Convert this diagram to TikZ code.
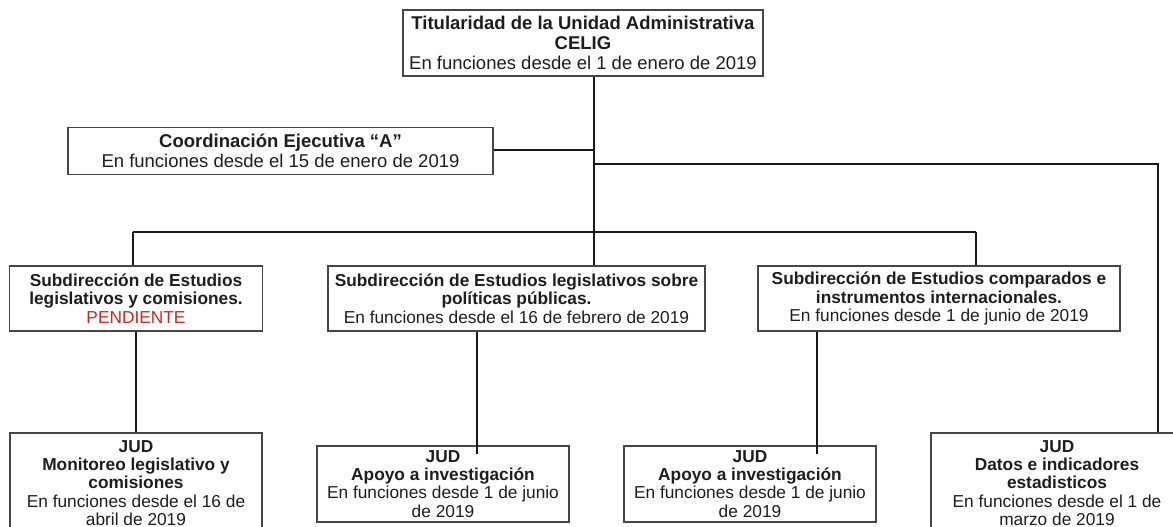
\documentclass[tikz,border=0pt]{standalone}
\usepackage{fontspec}
\setmainfont{Liberation Sans}
\definecolor{pend}{RGB}{200,40,30}
\definecolor{boxline}{RGB}{70,70,70}
\definecolor{txt}{RGB}{30,30,30}
\begin{document}
\begin{tikzpicture}[x=1pt,y=-1pt,
  box/.style={draw=boxline, line width=1.3pt, fill=white, rectangle, align=center, inner sep=0pt, text=txt},
  topfont/.style={font=\fontsize{18.5}{20}\selectfont},
  subfont/.style={font=\fontsize{17.3}{18.5}\selectfont},
  judfont/.style={font=\fontsize{17.3}{18.2}\selectfont},
  wire/.style={draw=black!90, line width=1.8pt},
]
\useasboundingbox (0,0) rectangle (1173,527);
\clip (0,0) rectangle (1173,527);

\node[box, topfont, minimum width=360, minimum height=66] (top) at (583,43)
  {\textbf{Titularidad de la Unidad Administrativa}\\\textbf{CELIG}\\En funciones desde el 1 de enero de 2019};
\node[box, topfont, minimum width=425, minimum height=47] (coord) at (280.5,151)
  {\textbf{Coordinación Ejecutiva “A”}\\En funciones desde el 15 de enero de 2019};

\node[box, subfont, minimum width=253, minimum height=65] (sub1) at (136,298.5)
  {\textbf{Subdirección de Estudios}\\\textbf{legislativos y comisiones.}\\\textcolor{pend}{PENDIENTE}};
\node[box, subfont, minimum width=377, minimum height=65] (sub2) at (516.5,298.5)
  {\textbf{Subdirección de Estudios legislativos sobre}\\\textbf{políticas públicas.}\\En funciones desde el 16 de febrero de 2019};
\node[box, subfont, minimum width=362, minimum height=65] (sub3) at (939,298.5)
  {\textbf{Subdirección de Estudios comparados e}\\\textbf{instrumentos internacionales.}\\En funciones desde 1 de junio de 2019};

\node[box, judfont, minimum width=252, minimum height=100] (jud1) at (136,483)
  {\textbf{JUD}\\\textbf{Monitoreo legislativo y}\\\textbf{comisiones}\\En funciones desde el 16 de\\abril de 2019};
\node[box, judfont, minimum width=252, minimum height=76] (jud2) at (443,484)
  {\textbf{JUD}\\\textbf{Apoyo a investigación}\\En funciones desde 1 de junio\\de 2019};
\node[box, judfont, minimum width=252, minimum height=76] (jud3) at (750,484)
  {\textbf{JUD}\\\textbf{Apoyo a investigación}\\En funciones desde 1 de junio\\de 2019};
\node[box, judfont, minimum width=252, minimum height=100] (jud4) at (1057,483)
  {\textbf{JUD}\\\textbf{Datos e indicadores}\\\textbf{estadisticos}\\En funciones desde el 1 de\\marzo de 2019};

\coordinate (trunk) at (594,232);
\coordinate (cj) at (594,150);
\coordinate (rt) at (1158,164);
\coordinate (b1) at (133,232);
\coordinate (b3) at (976,232);
\coordinate (d1) at (136,400);
\coordinate (e2) at (477,454);
\coordinate (e3) at (817,454);

\draw[wire] (trunk |- top.south) -- (trunk);
\draw[wire] (cj -| coord.east) -- (cj);
\draw[wire] (rt -| trunk) -- (rt) -- (rt |- jud4.north);
\draw[wire] (b1) -- (b3);
\draw[wire] (b1) -- (b1 |- sub1.north);
\draw[wire] (trunk) -- (trunk |- sub2.north);
\draw[wire] (b3) -- (b3 |- sub3.north);
\draw[wire] (d1 |- sub1.south) -- (d1 |- jud1.north);
\draw[wire] (e2 |- sub2.south) -- (e2);
\draw[wire] (e3 |- sub3.south) -- (e3);
\end{tikzpicture}
\end{document}
